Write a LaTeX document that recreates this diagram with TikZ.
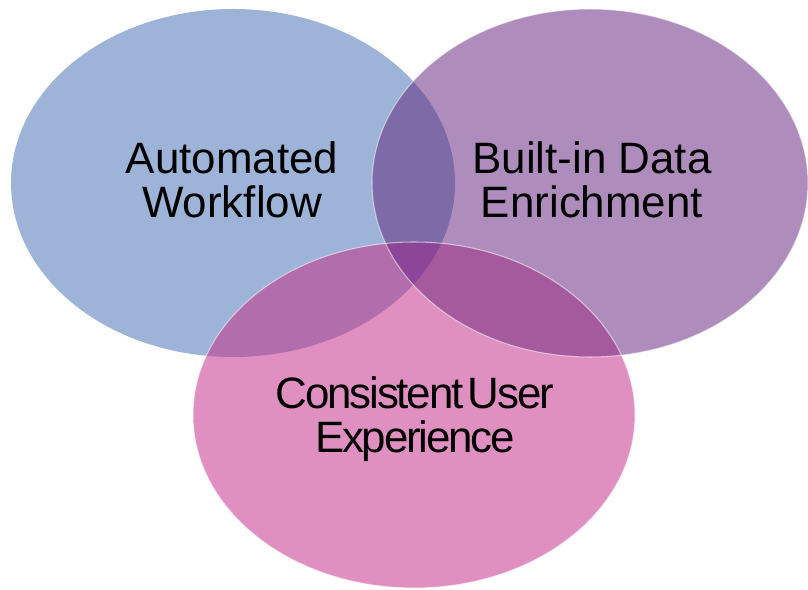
\documentclass[tikz,border=0pt]{standalone}
\usepackage{fontspec}
\setmainfont{Liberation Sans}
\usepackage{xcolor}

\definecolor{setA}{HTML}{9DB4D8}
\definecolor{setB}{HTML}{AE8DBD}
\definecolor{setC}{HTML}{E08FC1}
\definecolor{setAB}{HTML}{7D6BA8}
\definecolor{setAC}{HTML}{B26DAD}
\definecolor{setBC}{HTML}{A45A9C}
\definecolor{setABC}{HTML}{8D4598}

\def\setAarea{(233,183) ellipse [x radius=222, y radius=174]}
\def\setBarea{(590,183) ellipse [x radius=218, y radius=174]}
\def\setCarea{(414,415) ellipse [x radius=221, y radius=173]}

\tikzset{
  rim/.style={draw=white, draw opacity=0.55, line width=0.6pt},
  txt/.style={align=center, font=\fontsize{25}{25}\selectfont, text=black}
}

\begin{document}
\begin{tikzpicture}[x=0.02cm, y=-0.02cm]
\useasboundingbox (0,0) rectangle (808,590);

\fill [setA] \setAarea;
\fill [setB] \setBarea;
\fill [setC] \setCarea;
\begin{scope}
\clip \setAarea;
\fill [setAB] \setBarea;
\fill [setAC] \setCarea;
\end{scope}
\begin{scope}
\clip \setBarea;
\fill [setBC] \setCarea;
\end{scope}
\begin{scope}
\clip \setAarea;
\clip \setBarea;
\fill [setABC] \setCarea;
\end{scope}
\draw [rim] \setBarea;
\draw [rim] \setCarea;

\node (flow) at (232,180) [txt] {Automated\\Workflow};
\node (data) at (592,180) [txt] {Built-in Data\\Enrichment};
\node (user) at (415,419) [txt] {\addfontfeatures{LetterSpace=-5}Consistent\hspace{0.1em}User\\\addfontfeatures{LetterSpace=-5}Experience};
\end{tikzpicture}
\end{document}
